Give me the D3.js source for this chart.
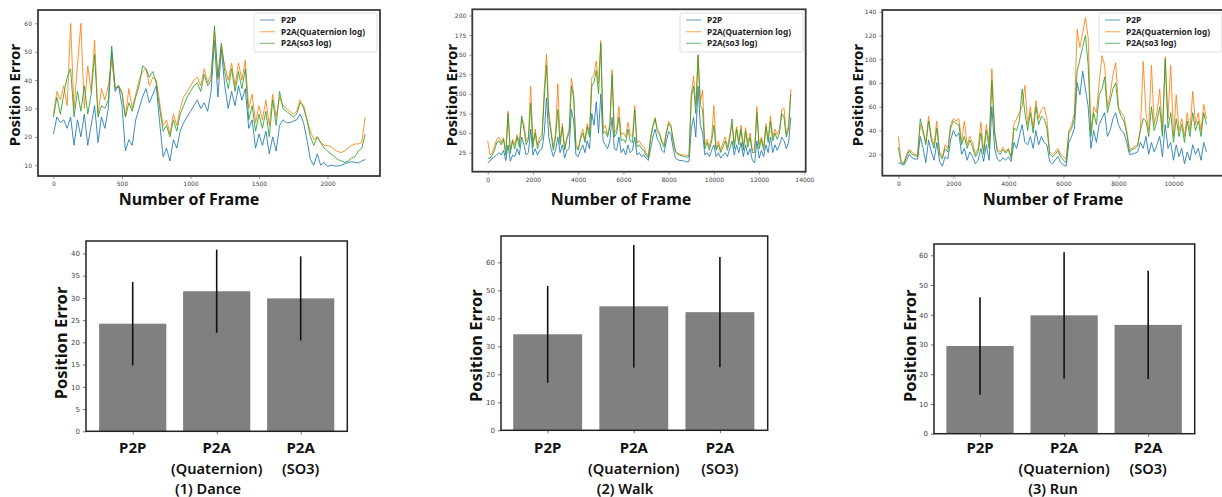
<!DOCTYPE html>
<html><head><meta charset="utf-8">
<script src="https://cdn.jsdelivr.net/npm/d3@7"></script>
<style>
body{margin:0;background:#fff;}
svg{display:block;font-family:"Noto Sans","Open Sans",sans-serif;}
</style></head>
<body><svg id="c" width="1222" height="497"></svg>
<script>
// ---------- DATA ----------
const seriesNames = ["P2P", "P2A(Quaternion log)", "P2A(so3 log)"];
const barCategories = [["P2P"], ["P2A", "(Quaternion)"], ["P2A", "(SO3)"]];
const panelTitles = ["(1) Dance", "(2) Walk", "(3) Run"];

// Dance: frame step 25
const danceStep = 25;
const danceP2P = [21,27,25,26,23,27,17,26,20,28,17,24,31,18,27,23,30,50,36,38,31,15,19,17,26,30,34,37,32,35,38,25,13,16,11.5,19,16,22,25,27,29,31,33,30,32,29,36,54,34,51,38,30,36,31,38,33,37,23,26,16,21,17,22,14,20,15,24,26,25,25,25.5,26,28,25,19,12,10,14,10,11,9.5,10,9.8,9.7,10,10.5,11,11.2,11,10.8,11.5,12];
const danceQuat = [28,36,33,38,31,60,30,45,60,30,45,36,54,28,37,33,38,47,37,38,36,27,37,30,35,40,43,44,38,41,40,32,24,26,21,28,24,30,34,36,38,40,41,38,44,39,42,57,40,52,45,40,46,38,46,40,47,30,35,25,31,26,33,24,35,27,34,31,30,29,28,29,33,30,26,22,19,20,18,17,17,16.5,15.5,14.8,14.5,15,16,17,17.5,17.5,18,27];
const danceSo3 = [27,34,28,35,41,44,27,36,29,38,28,35,49,27,31,30,33,52,37,38,35,27,32,29,34,38,45,44,41,43,39,30,22,24,20,26,22,28,31,34,36,38,39,36,42,38,40,59,41,53,43,37,44,36,43,37,44,26,31,22,28,23,29,20,33,24,36,30,29,28,27,28,32,31,26,20,17,20,18,16,15,14,13,12,11.5,11,11.5,12.5,13,15,16,21];

// Walk: frame step 100
const walkStep = 100;
const walkP2P = [12,14,18,20,22,25,22,28,15,35,14,22,20,30,22,45,35,22,25,55,22,30,22,28,30,50,95,45,30,20,28,45,25,35,18,28,30,80,65,22,20,28,35,25,40,30,75,60,90,50,100,40,35,30,40,70,30,28,45,25,30,22,35,25,28,45,22,25,20,22,18,15,30,45,55,42,38,28,25,40,52,48,30,18,16,15,15,14,13,14,55,70,45,110,60,50,22,25,20,28,35,20,25,18,22,25,20,30,40,22,35,25,38,20,35,22,30,15,12,40,18,28,20,35,25,45,25,35,28,35,45,40,30,38,70];
const walkQuat = [40,22,25,33,42,45,38,44,25,78,28,42,35,48,38,68,62,40,45,110,38,55,35,45,48,107,151,80,55,32,50,113,40,62,30,45,55,120,100,35,30,45,55,42,62,50,120,125,142,114,168,55,60,48,62,131,50,55,84,48,50,45,64,48,45,85,38,40,35,32,25,20,45,60,70,55,50,40,35,52,65,60,42,28,24,23,22,22,21,22,100,123,85,148,90,105,35,42,32,45,85,30,40,28,38,45,32,48,60,35,58,40,60,32,57,38,50,28,30,84,35,45,32,62,42,72,45,55,48,55,80,82,48,60,106];
const walkSo3 = [18,18,22,28,38,40,35,42,22,75,24,40,30,45,32,72,55,35,42,88,32,50,30,40,42,95,137,70,50,28,45,80,35,58,28,42,50,110,95,32,28,42,50,38,58,45,110,115,130,100,165,50,52,45,58,125,45,50,70,40,42,38,55,40,38,80,32,35,30,28,22,18,42,58,68,52,48,38,32,50,62,58,40,26,23,22,21,20,19,20,95,110,75,150,85,80,30,38,28,40,60,28,35,25,32,40,28,42,68,30,55,35,55,28,52,32,45,25,25,76,30,42,28,58,38,65,40,50,42,50,75,70,45,55,100];

// Run: frame step 100
const runStep = 100;
const runP2P = [13,12,11,15,20,17,16,16,35,25,13,32,22,15,30,14,10,18,16,32,40,35,38,20,25,15,22,18,12,15,25,14,28,15,60,25,16,14,17,15,18,14,30,25,35,45,30,28,35,25,40,28,35,30,28,14,12,15,18,13,11,10,30,35,42,80,70,90,75,60,25,40,30,45,50,55,35,40,50,55,45,40,38,30,20,20,21,22,30,25,35,20,30,22,28,35,18,45,25,30,15,28,18,25,12,22,15,28,20,25,15,30,22];
const runQuat = [35,14,13,20,24,22,20,19,45,38,30,52,35,28,48,22,18,28,25,45,50,48,50,30,48,28,35,30,20,25,47,22,45,30,92,40,24,22,26,22,25,18,45,50,55,60,78,45,60,42,65,50,58,60,50,22,20,22,25,20,18,16,40,45,55,125,110,122,135,118,40,60,55,80,103,95,60,70,87,97,60,55,52,40,24,25,27,28,42,98,55,40,95,45,55,75,38,102,50,95,35,70,40,50,35,55,40,73,45,55,40,62,50];
const runSo3 = [26,13,12,18,23,20,19,18,50,40,28,48,32,25,42,20,16,25,22,42,48,46,45,28,35,25,32,26,18,22,38,20,40,25,82,38,22,20,24,21,24,17,42,40,48,75,55,40,55,38,60,45,52,50,42,20,18,20,23,18,15,13,38,42,50,90,100,110,120,95,35,55,45,70,75,85,55,65,75,80,58,52,48,38,22,24,25,27,40,50,48,35,60,40,48,60,35,100,42,55,30,50,35,45,30,48,35,55,40,48,35,55,45];

// Bar charts: mean and std (error bar half length)
const barMeans = [[24.2,31.5,29.9],[34.3,44.3,42.2],[29.5,39.8,36.6]];
const barStd = [[9.4,9.35,9.45],[17.3,21.9,19.7],[16.4,21.2,18.2]];

// tick values
const lineXTicks = [[0,500,1000,1500,2000],[0,2000,4000,6000,8000,10000,12000,14000],[0,2000,4000,6000,8000,10000]];
const lineYTicks = [[10,20,30,40,50,60],[25,50,75,100,125,150,175,200],[20,40,60,80,100,120,140]];
const barYTicks = [[0,5,10,15,20,25,30,35,40],[0,10,20,30,40,50,60],[0,10,20,30,40,50,60]];

// ---------- LAYOUT ----------
const colors = ["#1f77b4","#ff7f0e","#2ca02c"];
const svg = d3.select("#c");
svg.append("rect").attr("width",1222).attr("height",497).attr("fill","#fff");

const linePanels = [
  {l:38,r:380,t:10,b:176,xd:[-113,2383],yd:[6.2,64.7],step:danceStep,data:[danceP2P,danceQuat,danceSo3],
   xlab:[189,204.5],ylab:[15,95],leg:{x:254,y:13,w:123,h:39}},
  {l:472.3,r:805.7,t:9.3,b:171.7,xd:[-681,14058],yd:[0.7,208],step:walkStep,data:[walkP2P,walkQuat,walkSo3],
   xlab:[621,204.5],ylab:[452.3,95],leg:{x:680,y:13,w:123,h:39}},
  {l:882.3,r:1223,t:10,b:175.7,xd:[-582,11800],yd:[2,141.4],step:runStep,data:[runP2P,runQuat,runSo3],
   xlab:[1053,204.5],ylab:[858.3,95],leg:{x:1099,y:13,w:123,h:39}}
];

linePanels.forEach((p,pi)=>{
  const x = d3.scaleLinear().domain(p.xd).range([p.l,p.r]);
  const y = d3.scaleLinear().domain(p.yd).range([p.b,p.t]);
  const g = svg.append("g");
  const clipId = "clip"+pi;
  svg.append("clipPath").attr("id",clipId).append("rect")
    .attr("x",p.l).attr("y",p.t).attr("width",p.r-p.l).attr("height",p.b-p.t);
  const lg = g.append("g").attr("clip-path",`url(#${clipId})`);
  p.data.forEach((arr,si)=>{
    const line = d3.line().x((d,i)=>x(i*p.step)).y(d=>y(d));
    lg.append("path").datum(arr).attr("d",line).attr("fill","none")
      .attr("stroke",colors[si]).attr("stroke-width",1).attr("stroke-opacity",0.85)
      .attr("stroke-linejoin","round");
  });
  const xa = g.append("g").attr("transform",`translate(0,${p.b})`)
    .call(d3.axisBottom(x).tickValues(lineXTicks[pi]).tickSize(3).tickPadding(3).tickFormat(d3.format("d")));
  const ya = g.append("g").attr("transform",`translate(${p.l},0)`)
    .call(d3.axisLeft(y).tickValues(lineYTicks[pi]).tickSize(3).tickPadding(3).tickFormat(d3.format("d")));
  [xa,ya].forEach(a=>{
    a.select(".domain").remove();
    a.selectAll("text").attr("font-size",6).attr("fill","#444").attr("font-family","'DejaVu Sans',sans-serif");
    a.selectAll("line").attr("stroke","#555").attr("stroke-width",0.6);
  });
  g.append("rect").attr("x",p.l).attr("y",p.t).attr("width",p.r-p.l).attr("height",p.b-p.t)
    .attr("fill","none").attr("stroke","#3a3a3a").attr("stroke-width",1.8);
  // legend
  const L = p.leg;
  const leg = g.append("g");
  leg.append("rect").attr("x",L.x).attr("y",L.y).attr("width",L.w).attr("height",L.h).attr("rx",2)
    .attr("fill","#fff").attr("fill-opacity",0.85).attr("stroke","#d5d5d5").attr("stroke-width",0.8);
  seriesNames.forEach((n,si)=>{
    const yy = L.y+7+si*11.7;
    leg.append("line").attr("x1",L.x+6).attr("x2",L.x+21).attr("y1",yy).attr("y2",yy)
      .attr("stroke",colors[si]).attr("stroke-width",1.2).attr("stroke-opacity",0.6);
    leg.append("text").attr("x",L.x+27).attr("y",yy+3).text(n)
      .attr("font-size",8.3).attr("font-weight",700).attr("fill","#222");
  });
  svg.append("text").attr("x",p.xlab[0]).attr("y",p.xlab[1]).attr("text-anchor","middle")
    .attr("font-size",16).attr("font-weight",700).attr("fill","#111").text("Number of Frame");
  svg.append("text").attr("transform",`translate(${p.ylab[0]+5},${p.ylab[1]}) rotate(-90)`)
    .attr("text-anchor","middle").attr("font-size",15).attr("font-weight",700).attr("fill","#111").text("Position Error");
});

const barPanels = [
  {l:86,r:347.3,t:241,b:431.3,xd:[-0.556,2.555],yd:[0,42.8],ylab:[61.7,343],title:208},
  {l:501,r:767.7,t:236,b:430.3,xd:[-0.542,2.555],yd:[0,69.4],ylab:[476.7,345.7],title:625},
  {l:934,r:1194.7,t:244,b:433.7,xd:[-0.547,2.553],yd:[0,63.8],ylab:[910.7,345.8],title:1053}
];

barPanels.forEach((p,pi)=>{
  const x = d3.scaleLinear().domain(p.xd).range([p.l,p.r]);
  const y = d3.scaleLinear().domain(p.yd).range([p.b,p.t]);
  const g = svg.append("g");
  const bw = x(0.4)-x(-0.4);
  barMeans[pi].forEach((m,i)=>{
    g.append("rect").attr("x",x(i)-bw/2).attr("y",y(m)).attr("width",bw).attr("height",y(0)-y(m))
      .attr("fill","#808080");
  });
  barMeans[pi].forEach((m,i)=>{
    const s = barStd[pi][i];
    g.append("line").attr("x1",x(i)).attr("x2",x(i)).attr("y1",y(m-s)).attr("y2",y(m+s))
      .attr("stroke","#111").attr("stroke-width",1.6);
  });
  const ya = g.append("g").attr("transform",`translate(${p.l},0)`)
    .call(d3.axisLeft(y).tickValues(barYTicks[pi]).tickSize(3).tickPadding(3).tickFormat(d3.format("d")));
  const xa = g.append("g").attr("transform",`translate(0,${p.b})`)
    .call(d3.axisBottom(x).tickValues([0,1,2]).tickSize(3).tickFormat(""));
  [xa,ya].forEach(a=>{
    a.select(".domain").remove();
    a.selectAll("text").attr("font-size",7).attr("fill","#444").attr("font-family","'DejaVu Sans',sans-serif");
    a.selectAll("line").attr("stroke","#333").attr("stroke-width",0.7);
  });
  g.append("rect").attr("x",p.l).attr("y",p.t).attr("width",p.r-p.l).attr("height",p.b-p.t)
    .attr("fill","none").attr("stroke","#222").attr("stroke-width",1.5);
  barCategories.forEach((c,i)=>{
    g.append("text").attr("x",x(i)).attr("y",453).attr("text-anchor","middle")
      .attr("font-size",15).attr("font-weight",700).attr("fill","#111").text(c[0]);
    if(c[1]) g.append("text").attr("x",x(i)).attr("y",473.5).attr("text-anchor","middle")
      .attr("font-size",14.6).attr("font-weight",600).attr("fill","#111").text(c[1]);
  });
  g.append("text").attr("x",p.title).attr("y",494).attr("text-anchor","middle")
    .attr("font-size",14.6).attr("font-weight",600).attr("fill","#111").text(panelTitles[pi]);
  svg.append("text").attr("transform",`translate(${p.ylab[0]+5.5},${p.ylab[1]}) rotate(-90)`)
    .attr("text-anchor","middle").attr("font-size",16.5).attr("font-weight",700).attr("fill","#111").text("Position Error");
});
</script></body></html>
